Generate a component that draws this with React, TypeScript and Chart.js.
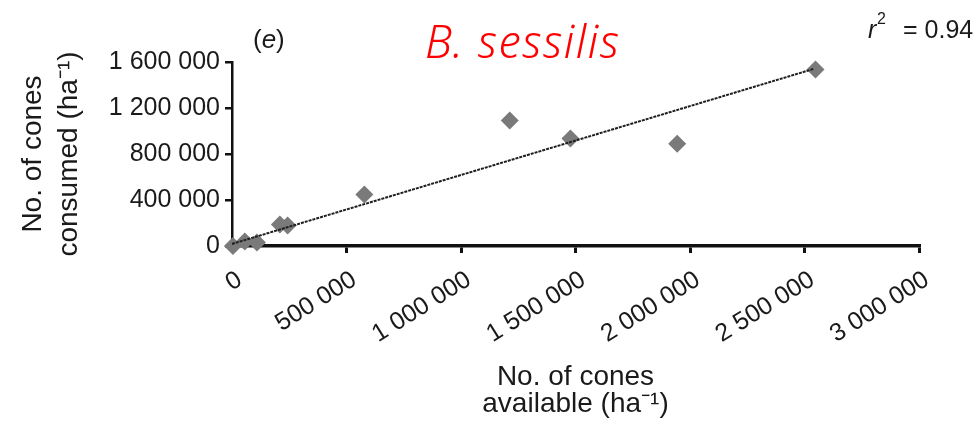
import React, { useEffect, useRef } from 'react';
import { Chart, registerables } from 'chart.js';

Chart.register(...registerables);

// Observed data (cones available vs cones consumed, per ha)
const conesAvailable = [4000, 56000, 109000, 209000, 243000, 578000, 1213000, 1478000, 1944000, 2548000];
const conesConsumed = [0, 39000, 30000, 187000, 178000, 448000, 1091000, 935000, 889000, 1535000];

// Regression line end points
const fitX = [0, 2540000];
const fitY = [18000, 1540000];

const xTickLabels = ['0', '500 000', '1 000 000', '1 500 000', '2 000 000', '2 500 000', '3 000 000'];
const yTickLabels = ['0', '400 000', '800 000', '1 200 000', '1 600 000'];

const xTitle = ['No. of cones', 'available (ha\u207B\u00B9)'];
const yTitle = ['No. of cones', 'consumed (ha\u207B\u00B9)'];
const panelLabel = 'e';
const speciesTitle = 'B. sessilis';
const rSquaredText = '= 0.94';

const FONT = '"Liberation Sans", Arial, Helvetica, sans-serif';
const INK = '#1a1a1a';

const annotationPlugin = {
  id: 'annotations',
  afterDraw(chart: any) {
    const ctx = chart.ctx as CanvasRenderingContext2D;
    ctx.save();
    ctx.textBaseline = 'alphabetic';
    ctx.textAlign = 'left';
    // (e)
    ctx.fillStyle = INK;
    ctx.font = `26px ${FONT}`;
    let x = 253;
    ctx.fillText('(', x, 48);
    x += ctx.measureText('(').width;
    ctx.font = `italic 26px ${FONT}`;
    ctx.fillText(panelLabel, x, 48);
    x += ctx.measureText(panelLabel).width;
    ctx.font = `26px ${FONT}`;
    ctx.fillText(')', x, 48);
    // species title
    ctx.fillStyle = '#ff0000';
    ctx.font = `italic 300 45px "Noto Sans", "Open Sans", sans-serif`;
    try {
      (ctx as any).letterSpacing = '1.5px';
    } catch (e) {
      /* ignore */
    }
    ctx.fillText(speciesTitle, 425, 58);
    try {
      (ctx as any).letterSpacing = '0px';
    } catch (e) {
      /* ignore */
    }
    // r^2
    ctx.fillStyle = INK;
    ctx.font = `italic 25px ${FONT}`;
    ctx.fillText('r', 868, 38);
    ctx.font = `16px ${FONT}`;
    ctx.fillText('2', 877, 24);
    ctx.font = `25px ${FONT}`;
    ctx.fillText(rSquaredText, 903, 38);
    ctx.restore();
  },
};

export default function App() {
  const ref = useRef<HTMLCanvasElement>(null);

  useEffect(() => {
    const points = conesAvailable.map((v, i) => ({ x: v, y: conesConsumed[i] }));
    const fit = fitX.map((v, i) => ({ x: v, y: fitY[i] }));
    const chart = new Chart(ref.current as HTMLCanvasElement, {
      type: 'scatter',
      data: {
        datasets: [
          {
            type: 'line',
            data: fit,
            showLine: true,
            borderColor: '#1f1f1f',
            borderWidth: 2,
            borderDash: [3, 1],
            pointRadius: 0,
            fill: false,
            clip: false,
          } as any,
          {
            data: points,
            pointStyle: 'rectRot',
            pointRadius: 9,
            pointHoverRadius: 9,
            backgroundColor: '#7a7a7a',
            borderColor: '#7a7a7a',
            borderWidth: 0,
            clip: false,
          } as any,
        ],
      },
      options: {
        animation: false,
        responsive: false,
        devicePixelRatio: 1,
        events: [],
        layout: { padding: { left: 0, right: 60, top: 62, bottom: 0 } },
        plugins: {
          legend: { display: false },
          tooltip: { enabled: false },
          title: { display: false },
        },
        scales: {
          x: {
            type: 'linear',
            min: 0,
            max: 3000000,
            afterFit: (scale: any) => {
              scale.height = 184;
            },
            ticks: {
              stepSize: 500000,
              autoSkip: false,
              minRotation: 32,
              maxRotation: 32,
              padding: 12,
              labelOffset: 8,
              color: INK,
              font: { family: FONT, size: 25 },
              callback: (_v: any, i: number) => xTickLabels[i],
            },
            grid: {
              display: true,
              drawOnChartArea: false,
              drawTicks: true,
              tickLength: 7,
              color: '#111',
              tickColor: '#111',
              lineWidth: 3,
              tickWidth: 3,
            },
            border: { display: true, color: '#111', width: 3.5 },
            title: {
              display: true,
              text: xTitle,
              color: INK,
              font: { family: FONT, size: 28, lineHeight: '27px' },
              padding: { top: 0, bottom: 12.5 },
            },
          },
          y: {
            type: 'linear',
            min: 0,
            max: 1600000,
            afterFit: (scale: any) => {
              scale.width = 232;
            },
            ticks: {
              stepSize: 400000,
              autoSkip: false,
              padding: 5,
              color: INK,
              font: { family: FONT, size: 25 },
              callback: (_v: any, i: number) => yTickLabels[i],
            },
            grid: {
              display: true,
              drawOnChartArea: false,
              drawTicks: true,
              tickLength: 7,
              color: '#111',
              tickColor: '#111',
              lineWidth: 2.5,
              tickWidth: 2.5,
            },
            border: { display: true, color: '#111', width: 2.5 },
            title: {
              display: true,
              text: yTitle,
              color: INK,
              font: { family: FONT, size: 28, lineHeight: '36px' },
              padding: { top: 15, bottom: 0 },
            },
          },
        },
      },
      plugins: [annotationPlugin],
    } as any);
    return () => chart.destroy();
  }, []);

  return (
    <div style={{ position: 'absolute', left: 0, top: 0, width: 979, height: 430, background: '#fff' }}>
      <canvas ref={ref} width={979} height={430} style={{ display: 'block' }} />
    </div>
  );
}
